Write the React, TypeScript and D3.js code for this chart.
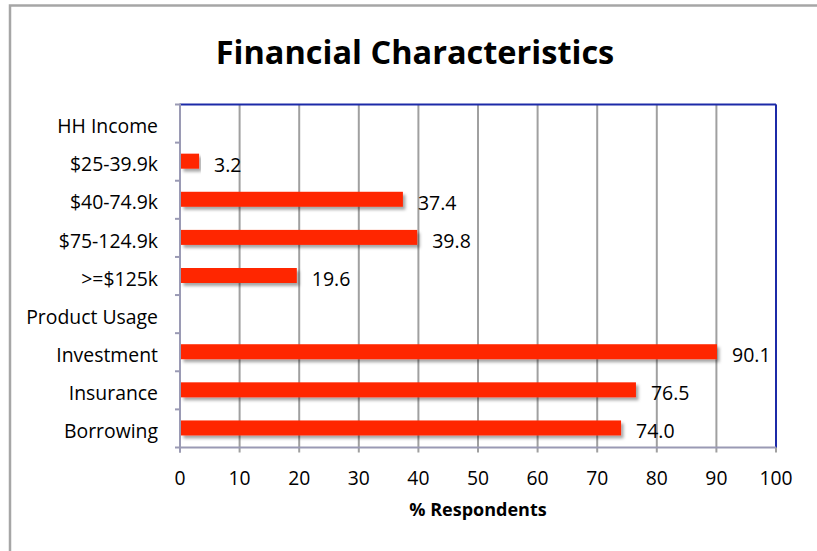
import React from "react";
import * as d3 from "d3";

const categories = [
  "HH Income",
  "$25-39.9k",
  "$40-74.9k",
  "$75-124.9k",
  ">=$125k",
  "Product Usage",
  "Investment",
  "Insurance",
  "Borrowing",
];
const values: (number | null)[] = [null, 3.2, 37.4, 39.8, 19.6, null, 90.1, 76.5, 74.0];
const xTicks = [0, 10, 20, 30, 40, 50, 60, 70, 80, 90, 100];
const title = "Financial Characteristics";
const xTitle = "% Respondents";

const W = 817;
const H = 551;
const left = 180;
const right = 776;
const top = 104.5;
const bottom = 447.5;
const FONT = "'Open Sans', sans-serif";

export default function App() {
  const x = d3.scaleLinear().domain([0, 100]).range([left, right]);
  const y = d3.scaleBand<string>().domain(categories).range([top, bottom]);
  const band = y.bandwidth();
  const bh = 15;
  const center = (c: string) => (y(c) as number) + band / 2;

  return (
    <svg
      width={W}
      height={H}
      style={{ position: "absolute", left: 0, top: 0, background: "#fff" }}
      fontFamily={FONT}
    >
      <defs>
        <filter id="sh" x="-5%" y="-50%" width="115%" height="220%">
          <feDropShadow dx="2.5" dy="3" stdDeviation="1.8" floodColor="#000" floodOpacity="0.35" />
        </filter>
      </defs>
      {/* outer frame */}
      <path d={`M10,${H} L10,5.5 L${W},5.5`} fill="none" stroke="#a6a6a6" strokeWidth={2.5} />
      <text x={415} y={64} textAnchor="middle" fontSize={32.5} fontWeight={700} fill="#000">
        {title}
      </text>

      {/* gridlines */}
      {xTicks.map((t) => (
        <line
          key={"g" + t}
          x1={x(t)}
          x2={x(t)}
          y1={top}
          y2={bottom + 5}
          stroke="#a0a0a0"
          strokeWidth={2}
        />
      ))}
      {/* plot border top/right */}
      <line x1={left} x2={right} y1={top} y2={top} stroke="#1c2aa8" strokeWidth={2} />
      <line x1={right} x2={right} y1={top} y2={bottom} stroke="#1c2aa8" strokeWidth={2} />
      {/* left axis */}
      <line x1={left} x2={left} y1={top - 1} y2={bottom + 5} stroke="#9a9ab4" strokeWidth={2} />
      {categories.map((c, i) => (
        <line
          key={"yt" + i}
          x1={left - 5}
          x2={left}
          y1={y(c) as number}
          y2={y(c) as number}
          stroke="#9a9ab4"
          strokeWidth={2}
        />
      ))}
      <line x1={left - 5} x2={left} y1={bottom} y2={bottom} stroke="#9a9ab4" strokeWidth={2} />
      {/* bottom axis */}
      <line x1={left} x2={right} y1={bottom} y2={bottom} stroke="#9a9ab4" strokeWidth={2} />

      {/* bars */}
      {categories.map((c, i) => {
        const v = values[i];
        if (v == null) return null;
        const yc = center(c);
        return (
          <g key={"b" + i}>
            <rect
              x={x(0) + 1}
              y={yc - bh / 2 - 0.5}
              width={x(v) - x(0) - 1}
              height={bh}
              fill="#ff2600"
              filter="url(#sh)"
            />
            <text x={x(v) + 15} y={yc + 10} fontSize={19.5} fill="#000">
              {v.toFixed(1)}
            </text>
          </g>
        );
      })}

      {/* category labels */}
      {categories.map((c, i) => (
        <text
          key={"c" + i}
          x={158}
          y={center(c) + 9.7}
          textAnchor="end"
          fontSize={19.4}
          fill="#000"
        >
          {c}
        </text>
      ))}

      {/* x tick labels */}
      {xTicks.map((t) => (
        <text key={"xl" + t} x={x(t)} y={484.5} textAnchor="middle" fontSize={19.3} fill="#000">
          {t}
        </text>
      ))}
      <text x={(left + right) / 2} y={516} textAnchor="middle" fontSize={18} fontWeight={700} fill="#000">
        {xTitle}
      </text>
    </svg>
  );
}
